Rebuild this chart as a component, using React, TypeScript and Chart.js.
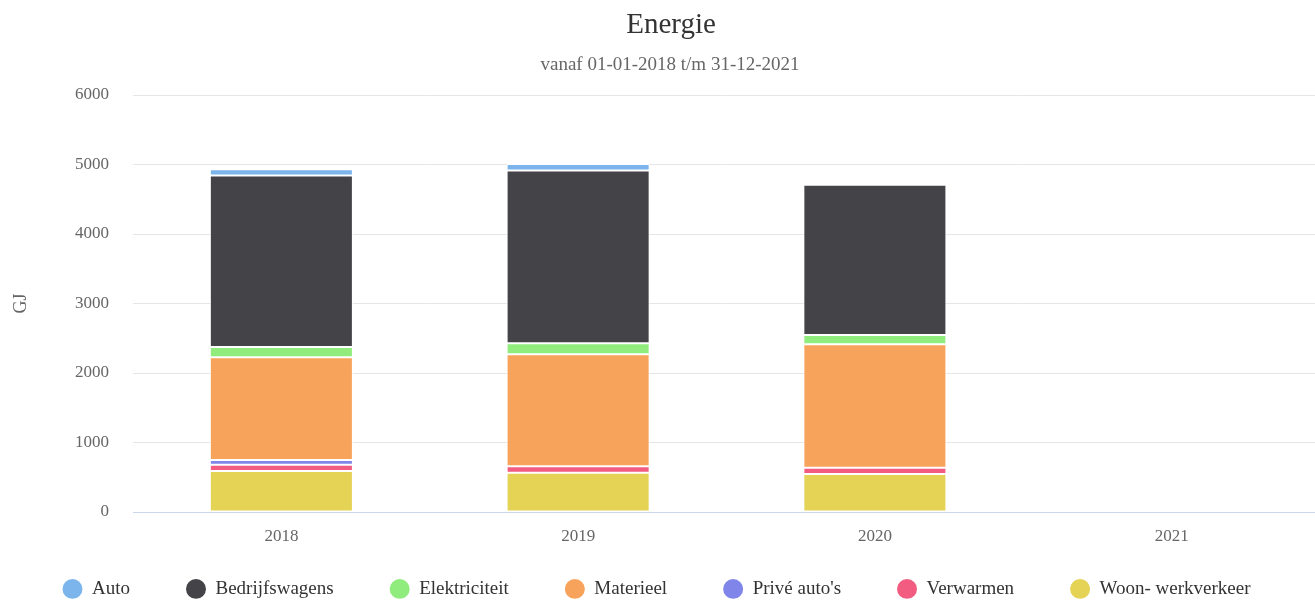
import React, { useEffect, useRef } from "react";
import { Chart, registerables } from "chart.js";

Chart.register(...registerables);

// Energy use per year (GJ), stacked by source
const years = ["2018", "2019", "2020", "2021"];
const woonWerkverkeer = [590, 565, 547, 0];
const verwarmen = [90, 92, 90, 0];
const priveAutos = [70, 0, 0, 0];
const materieel = [1475, 1612, 1776, 0];
const elektriciteit = [150, 158, 134, 0];
const bedrijfswagens = [2465, 2485, 2162, 0];
const auto = [90, 95, 0, 0];

const yMin = 0;
const yMax = 6000;
const yStep = 1000;

const titleText = "Energie";
const subtitleText = "vanaf 01-01-2018 t/m 31-12-2021";
const yAxisTitle = "GJ";

const SERIF = "'Liberation Serif', 'Times New Roman', Times, serif";

// bottom-most segment first; the legend lists them in reverse
const series = [
  { label: "Woon- werkverkeer", data: woonWerkverkeer, color: "#e4d354" },
  { label: "Verwarmen", data: verwarmen, color: "#f15c80" },
  { label: "Privé auto's", data: priveAutos, color: "#8085e9" },
  { label: "Materieel", data: materieel, color: "#f7a35c" },
  { label: "Elektriciteit", data: elektriciteit, color: "#90ed7d" },
  { label: "Bedrijfswagens", data: bedrijfswagens, color: "#434348" },
  { label: "Auto", data: auto, color: "#7cb5ec" },
];

// The legend's item spacing is large, so its box is extended upwards after
// layout so the row sits closer under the axis labels (the legend clips to its box).
const LEGEND_LIFT = 37;
const legendLift = {
  id: "legendLift",
  afterLayout(chart: any) {
    const lg = chart.legend;
    if (!lg) return;
    lg.top -= LEGEND_LIFT;
    lg.height = lg.bottom - lg.top;
  },
};

export default function App() {
  const canvasRef = useRef<HTMLCanvasElement | null>(null);

  useEffect(() => {
    const canvas = canvasRef.current;
    if (!canvas) return;
    Chart.defaults.font.family = SERIF;

    const defaultLabels = Chart.defaults.plugins.legend.labels.generateLabels;

    const chart = new Chart(canvas, {
      type: "bar",
      data: {
        labels: years,
        datasets: series.map((s) => ({
          label: s.label,
          data: s.data,
          backgroundColor: s.color,
          borderColor: "#ffffff",
          borderWidth: 1,
          borderSkipped: false,
          barPercentage: 0.482,
          categoryPercentage: 1,
        })),
      },
      plugins: [legendLift],
      options: {
        responsive: false,
        animation: false,
        devicePixelRatio: 1,
        events: [],
        layout: { padding: { top: 95, left: -7, right: 0, bottom: 0 } },
        plugins: {
          title: { display: false },
          tooltip: { enabled: false },
          legend: {
            position: "bottom",
            reverse: true,
            maxHeight: 39.6,
            labels: {
              usePointStyle: true,
              pointStyle: "circle",
              boxHeight: 14,
              pointStyleWidth: 20,
              padding: 56,
              color: "#333333",
              font: { size: 19, family: SERIF },
              generateLabels: (c: any) =>
                defaultLabels(c).map((item: any) => ({
                  ...item,
                  lineWidth: 0,
                  strokeStyle: "rgba(0,0,0,0)",
                })),
            },
          },
        },
        scales: {
          x: {
            stacked: true,
            grid: { display: false, drawTicks: false },
            border: { display: true, color: "#ccd6eb", width: 1 },
            ticks: { color: "#666666", font: { size: 17, family: SERIF }, padding: 14 },
          },
          y: {
            stacked: true,
            min: yMin,
            max: yMax,
            ticks: {
              stepSize: yStep,
              color: "#666666",
              font: { size: 17, family: SERIF },
              padding: 24,
              callback: (v: any) => String(v),
            },
            grid: {
              drawTicks: false,
              color: (ctx: any) => (ctx.tick && ctx.tick.value === 0 ? "rgba(0,0,0,0)" : "#e6e6e6"),
            },
            border: { display: false },
            title: {
              display: true,
              text: yAxisTitle,
              color: "#666666",
              font: { size: 18, family: SERIF },
              padding: { top: 17, bottom: 19.4 },
            },
          },
        },
      } as any,
    });

    return () => chart.destroy();
  }, []);

  return (
    <div
      style={{
        position: "fixed",
        left: 0,
        top: 0,
        width: 1315,
        height: 600,
        overflow: "hidden",
        background: "#ffffff",
      }}
    >
      <canvas
        ref={canvasRef}
        width={1320}
        height={600}
        style={{ position: "absolute", left: 0, top: 0, width: 1320, height: 600 }}
      />
      <div
        style={{
          position: "absolute",
          left: 0,
          top: 9,
          width: 1342,
          textAlign: "center",
          fontFamily: SERIF,
          fontSize: 29,
          lineHeight: 1,
          color: "#333333",
          whiteSpace: "nowrap",
        }}
      >
        {titleText}
      </div>
      <div
        style={{
          position: "absolute",
          left: 0,
          top: 54,
          width: 1340,
          textAlign: "center",
          fontFamily: SERIF,
          fontSize: 19,
          lineHeight: 1,
          color: "#666666",
          whiteSpace: "nowrap",
        }}
      >
        {subtitleText}
      </div>
    </div>
  );
}
